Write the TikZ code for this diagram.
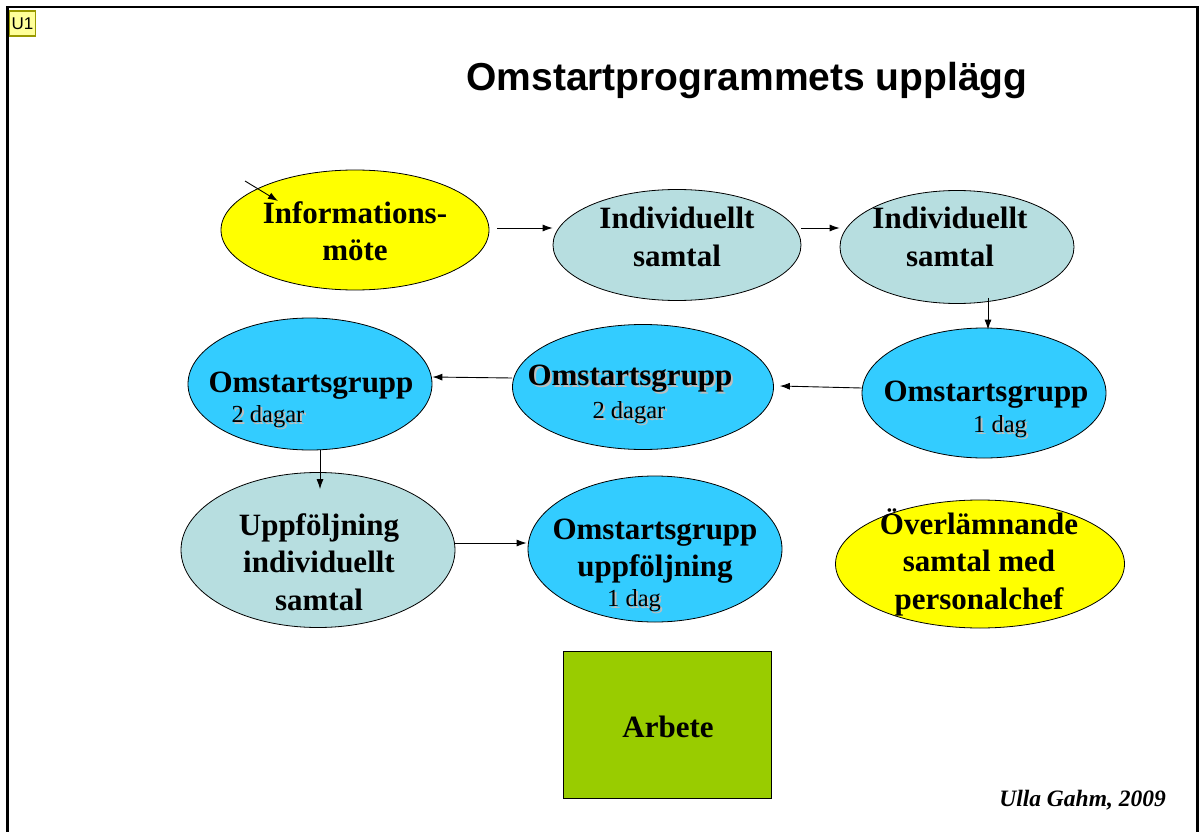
\documentclass[tikz,border=0pt]{standalone}
\usepackage{fontspec}
\setmainfont{Liberation Serif}
\newfontfamily\arialf{Liberation Sans}
\usetikzlibrary{shapes.geometric,arrows.meta}
\definecolor{infoyellow}{HTML}{FFFF00}
\definecolor{paleblue}{HTML}{B7DEE0}
\definecolor{brightblue}{HTML}{33CCFF}
\definecolor{workgreen}{HTML}{99CC00}
\definecolor{shadowgray}{HTML}{BDBDBD}
\definecolor{tagfill}{HTML}{FFFF99}
\definecolor{tagborder}{HTML}{999900}
\newcommand\shadowed[1]{\makebox[0pt][l]{\kern2pt\raisebox{-2pt}{\textcolor{shadowgray}{#1}}}#1}
\begin{document}
\begin{tikzpicture}[x=1pt,y=-1pt,
  bubble/.style={ellipse,draw=black,line width=0.8pt,inner sep=0pt},
  bigtxt/.style={font=\fontsize{31}{37.5}\selectfont\bfseries,align=center,inner sep=0pt},
  smalltxt/.style={font=\fontsize{24.5}{28}\selectfont,inner sep=0pt},
  link/.style={-{Latex[length=10pt,width=7pt]},line width=0.9pt}]
\useasboundingbox (0,0) rectangle (1200,832);
\draw[line width=2.2pt] (7.5,832) -- (7.5,7) -- (1197.5,7) -- (1197.5,832);
\node[draw=tagborder,fill=tagfill,line width=1.5pt,minimum width=26,minimum height=25,inner sep=0pt,font=\arialf\fontsize{17}{17}\selectfont] (tag) at (22.5,23.5) {U1};
\node[font=\arialf\bfseries\fontsize{39}{41}\selectfont,inner sep=0pt] (title) at (747,81) {Omstartprogrammets upplägg};

% ellipses
\node[bubble,fill=infoyellow,minimum width=268,minimum height=120] (info) at (355,230) {};
\node[bubble,fill=paleblue,minimum width=248,minimum height=111] (ind1) at (677,245) {};
\node[bubble,fill=paleblue,minimum width=234,minimum height=113] (ind2) at (957,247) {};
\node[bubble,fill=brightblue,minimum width=244,minimum height=130] (omst1) at (984,393) {};
\node[bubble,fill=brightblue,minimum width=261,minimum height=125] (omst2) at (643,387) {};
\node[bubble,fill=brightblue,minimum width=244,minimum height=132] (omstL) at (310,384) {};
\node[bubble,fill=paleblue,minimum width=274,minimum height=155] (uppf) at (318,550) {};
\node[bubble,fill=brightblue,minimum width=254,minimum height=146] (omstupp) at (655,549) {};
\node[bubble,fill=infoyellow,minimum width=289,minimum height=128] (overl) at (980,564) {};
\node[draw=black,line width=1pt,fill=workgreen,minimum width=208,minimum height=147,inner sep=0pt] (work) at (667,724.5) {};

% texts
\node[bigtxt] (infoT) at (355,231) {Informations-\\möte};
\node[bigtxt] (ind1T) at (677,237) {Individuellt\\samtal};
\node[bigtxt] (ind2T) at (950,237) {Individuellt\\samtal};
\node[bigtxt] (omst1T) at (986,395) {Omstartsgrupp};
\node[smalltxt] (omst1S) at (1000,428) {\shadowed{1 dag}};
\node[bigtxt] (omst2T) at (630,380) {\shadowed{Omstartsgrupp}};
\node[smalltxt] (omst2S) at (629,414) {\shadowed{2 dagar}};
\node[bigtxt] (omstLT) at (311,386) {Omstartsgrupp};
\node[smalltxt] (omstLS) at (268,418) {\shadowed{2 dagar}};
\node[bigtxt] (uppfT) at (319,562) {Uppföljning\\individuellt\\samtal};
\node[bigtxt] (omstuppT) at (655,551) {Omstartsgrupp\\uppföljning};
\node[smalltxt] (omstuppS) at (634,602) {\shadowed{1 dag}};
\node[bigtxt] (overlT) at (979,562) {Överlämnande\\samtal med\\personalchef};
\node[bigtxt] (workT) at (668,727) {Arbete};
\node[anchor=east,font=\bfseries\itshape\fontsize{23.5}{26}\selectfont,inner sep=0pt] (credit) at (1166,800) {Ulla Gahm, 2009};

% connectors
\coordinate (infotail) at (245,181);
\coordinate (infohead) at (278,201);
\draw[link] (infotail) -- (infohead);
\draw[link] ([shift={(8,-2)}]info.east) -- ([shift={(0,-17)}]ind1.west);
\draw[link] ([shift={(0,-17)}]ind1.east) -- ([shift={(0,-19)}]ind2.west);
\draw[link] ([shift={(31,-6)}]ind2.south) -- ([shift={(4,2)}]omst1.north);
\draw[link] ([shift={(0,-5)}]omst1.west) -- ([shift={(6,-1)}]omst2.east);
\draw[link] ([shift={(0,-9)}]omst2.west) -- ([shift={(0,-7)}]omstL.east);
\draw[link] ([shift={(10,0)}]omstL.south) -- ([shift={(2,17)}]uppf.north);
\draw[link] ([shift={(0,-7)}]uppf.east) -- ([shift={(-1,-6)}]omstupp.west);
\end{tikzpicture}
\end{document}
